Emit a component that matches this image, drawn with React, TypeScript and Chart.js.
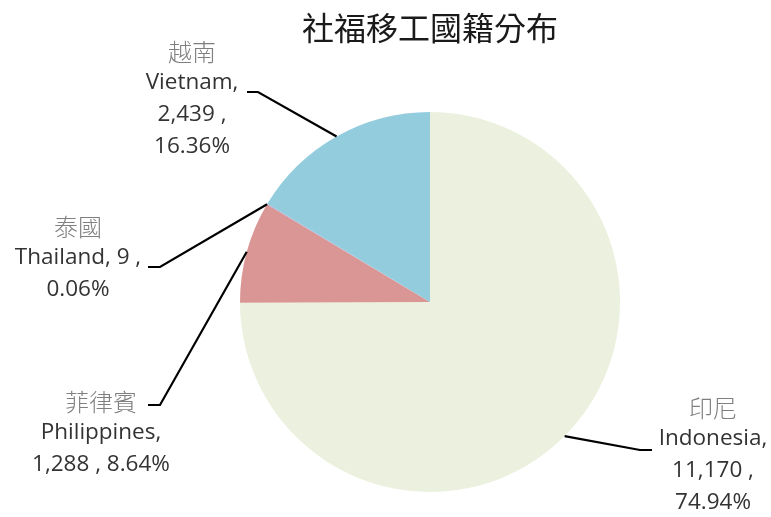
import React, { useEffect, useRef } from "react";
import { Chart, registerables } from "chart.js";

Chart.register(...registerables);

const titleText = "社福移工國籍分布";
const namesZh = ["印尼", "菲律賓", "泰國", "越南"];
const namesEn = ["Indonesia", "Philippines", "Thailand", "Vietnam"];
const values = [11170, 1288, 9, 2439];
const percents = ["74.94%", "8.64%", "0.06%", "16.36%"];
const colors = ["#EBF1DE", "#D99694", "#B3A2C7", "#93CDDD"];

// label layout: lines of text per slice, anchor (center x, first line y), elbow
const labelLayout = [
  { lines: [namesZh[0], namesEn[0] + ",", "11,170 ,", percents[0]], x: 713, y: 408, elbow: [640, 450], end: [652, 450] },
  { lines: [namesZh[1], namesEn[1] + ",", "1,288 , " + percents[1]], x: 101, y: 402, elbow: [160, 405], end: [148, 405] },
  { lines: [namesZh[2], namesEn[2] + ", 9 ,", percents[2]], x: 78, y: 227, elbow: [160, 267], end: [148, 267] },
  { lines: [namesZh[3], namesEn[3] + ",", "2,439 ,", percents[3]], x: 192, y: 52, elbow: [258, 92], end: [247, 92] },
];

const labelPlugin = {
  id: "labelPlugin",
  afterDraw(chart: any) {
    const ctx = chart.ctx;
    ctx.save();
    // title
    ctx.fillStyle = "#1a1a1a";
    ctx.font = "400 32px 'Noto Sans CJK TC'";
    ctx.textAlign = "center";
    ctx.textBaseline = "middle";
    ctx.fillText(titleText, 430, 28);

    const meta = chart.getDatasetMeta(0);
    meta.data.forEach((arc: any, i: number) => {
      const L = labelLayout[i];
      const mid = (arc.startAngle + arc.endAngle) / 2;
      const sx = arc.x + Math.cos(mid) * arc.outerRadius;
      const sy = arc.y + Math.sin(mid) * arc.outerRadius;
      ctx.strokeStyle = "#000000";
      ctx.lineWidth = 2.2;
      ctx.beginPath();
      ctx.moveTo(sx, sy);
      ctx.lineTo(L.elbow[0], L.elbow[1]);
      ctx.lineTo(L.end[0], L.end[1]);
      ctx.stroke();

      L.lines.forEach((t: string, j: number) => {
        if (j === 0) {
          ctx.fillStyle = "#7f7f7f";
          ctx.font = "300 24px 'Noto Sans CJK TC'";
        } else {
          ctx.fillStyle = "#333333";
          ctx.font = "22.5px 'Open Sans'";
        }
        const y = j === 0 ? L.y : L.y + 31 + (j - 1) * 32;
        ctx.fillText(t, L.x, y);
      });
    });
    ctx.restore();
  },
};

export default function App() {
  const ref = useRef<HTMLCanvasElement>(null);
  useEffect(() => {
    if (!ref.current) return;
    const chart = new Chart(ref.current, {
      type: "pie",
      data: {
        labels: namesEn,
        datasets: [
          {
            data: values,
            backgroundColor: colors,
            borderWidth: 0,
          },
        ],
      },
      options: {
        animation: false,
        responsive: true,
        maintainAspectRatio: false,
        layout: { padding: { left: 240, right: 151, top: 112, bottom: 25 } },
        plugins: {
          legend: { display: false },
          tooltip: { enabled: false },
          title: { display: false },
        },
      },
      plugins: [labelPlugin],
    });
    return () => chart.destroy();
  }, []);
  return (
    <div style={{ position: "fixed", left: 0, top: 0, width: 771, height: 517, background: "#fff" }}>
      <canvas ref={ref} />
    </div>
  );
}
